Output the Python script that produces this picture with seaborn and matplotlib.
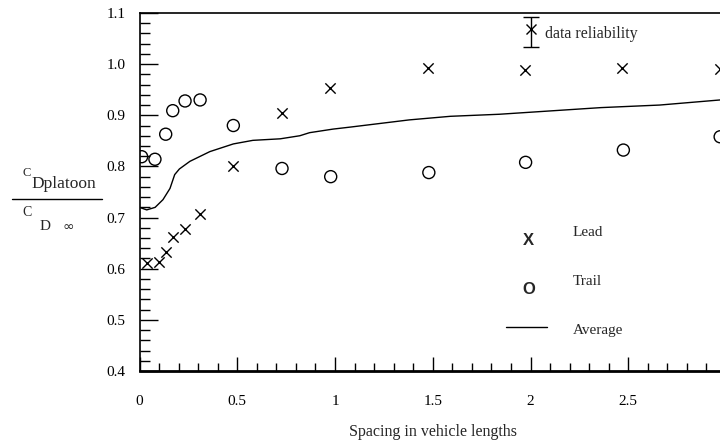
import numpy as np
import pandas as pd
import matplotlib.pyplot as plt
import matplotlib.lines as mlines
import seaborn as sns

# --- data ---
lead_x = [0.037, 0.10, 0.134, 0.17, 0.231, 0.31, 0.48, 0.73, 0.976, 1.477, 1.972, 2.47, 2.97]
lead_y = [0.611, 0.614, 0.632, 0.662, 0.678, 0.707, 0.801, 0.905, 0.953, 0.992, 0.989, 0.992, 0.990]

trail_x = [0.011, 0.079, 0.134, 0.17, 0.233, 0.31, 0.48, 0.729, 0.978, 1.48, 1.975, 2.475, 2.97]
trail_y = [0.819, 0.814, 0.863, 0.909, 0.928, 0.930, 0.880, 0.796, 0.780, 0.788, 0.808, 0.832, 0.858]

avg_x = [0.0, 0.037, 0.08, 0.12, 0.156, 0.18, 0.204, 0.258, 0.36, 0.48, 0.58, 0.72,
         0.82, 0.87, 0.99, 1.08, 1.38, 1.59, 1.84, 2.36, 2.66, 2.97, 3.0]
avg_y = [0.720, 0.715, 0.720, 0.735, 0.757, 0.784, 0.795, 0.810, 0.829, 0.844, 0.851, 0.854,
         0.860, 0.866, 0.873, 0.877, 0.891, 0.898, 0.902, 0.915, 0.920, 0.930, 0.931]

# sample error bar shown in the key
rel_x = [2.0]
rel_y = [1.0696]
rel_err = [[0.0366], [0.0224]]

x_ticks = [0, 0.5, 1, 1.5, 2, 2.5, 3]
x_tick_labels = ["0", "0.5", "1", "1.5", "2", "2.5", "3"]
y_ticks = [0.4, 0.5, 0.6, 0.7, 0.8, 0.9, 1.0, 1.1]
y_tick_labels = ["0.4", "0.5", "0.6", "0.7", "0.8", "0.9", "1.0", "1.1"]

lead_df = pd.DataFrame({"spacing": lead_x, "cd": lead_y})
trail_df = pd.DataFrame({"spacing": trail_x, "cd": trail_y})
avg_df = pd.DataFrame({"spacing": avg_x, "cd": avg_y})

sns.set_theme(style="ticks")
plt.rcParams['font.family'] = ['Liberation Serif', 'DejaVu Serif']

fig = plt.figure(figsize=(7.2, 4.45), dpi=100)
# axes run past the right edge of the picture, as in the reference
ax = fig.add_axes([139.5 / 720, 74 / 445, 586.5 / 720, 358 / 445])

sns.lineplot(data=avg_df, x="spacing", y="cd", color="black", linewidth=1.0, ax=ax)
sns.scatterplot(data=lead_df, x="spacing", y="cd", marker="x", color="black",
                s=55, linewidth=1.0, ax=ax)
sns.scatterplot(data=trail_df, x="spacing", y="cd", marker="o", facecolor="none",
                edgecolor="black", s=75, linewidth=1.0, ax=ax)

ax.errorbar(rel_x, rel_y, yerr=rel_err, fmt="x", color="black", ms=7, mew=1.0,
            elinewidth=1.0, capsize=5.5, capthick=1.0)
ax.text(2.074, 1.058, "data reliability", fontsize=11.5, va="center", ha="left")

# hand-made key
ax.text(1.99, 0.656, "X", family=["Liberation Sans"], fontweight="bold", fontsize=12,
        ha="center", va="center")
ax.text(1.99, 0.560, "O", family=["Liberation Sans"], fontweight="bold", fontsize=12,
        ha="center", va="center")
ax.add_line(mlines.Line2D([1.875, 2.084], [0.487, 0.487], color="black", linewidth=1.0))
ax.text(2.217, 0.670, "Lead", fontsize=11, va="center", ha="left")
ax.text(2.217, 0.575, "Trail", fontsize=11, va="center", ha="left")
ax.text(2.217, 0.479, "Average", fontsize=11, va="center", ha="left")

ax.set_xlim(0, 3)
ax.set_ylim(0.4, 1.1)
ax.set_xticks(x_ticks)
ax.set_xticklabels(x_tick_labels)
ax.set_yticks(y_ticks)
ax.set_yticklabels(y_tick_labels)
ax.set_xticks(np.arange(0, 3.01, 0.1), minor=True)
ax.set_yticks(np.arange(0.4, 1.101, 0.02), minor=True)

ax.tick_params(axis="both", which="both", direction="in", color="black",
               labelcolor="black", labelsize=11)
ax.tick_params(axis="y", which="major", length=13, width=1.0, pad=10)
ax.tick_params(axis="y", which="minor", length=7, width=1.0)
ax.tick_params(axis="x", which="major", length=10, width=1.0, pad=17)
ax.tick_params(axis="x", which="minor", length=5.5, width=1.0)

for side in ["left", "top", "right"]:
    ax.spines[side].set_linewidth(1.2)
    ax.spines[side].set_color("black")
ax.spines["bottom"].set_linewidth(2.0)
ax.spines["bottom"].set_color("black")

ax.set_xlabel("Spacing in vehicle lengths", fontsize=11.5, labelpad=12)
ax.set_ylabel("")

# fraction-style y label: C_D,platoon / C_D,inf
fig.text(27 / 720, 1 - 173 / 445, "C", fontsize=9, ha="center", va="center")
fig.text(31 / 720, 1 - 184 / 445, "Dplatoon", fontsize=12.5, ha="left", va="center")
fig.add_artist(mlines.Line2D([11.7 / 720, 101.7 / 720], [1 - 199 / 445, 1 - 199 / 445],
                             color="black", linewidth=1.0))
fig.text(27 / 720, 1 - 213 / 445, "C", fontsize=10, ha="center", va="center")
fig.text(45 / 720, 1 - 227 / 445, "D", fontsize=11, ha="center", va="center")
fig.text(68 / 720, 1 - 227 / 445, "\u221e", fontsize=10, ha="center", va="center",
         family=["DejaVu Sans"])

fig.savefig("out.png", dpi=100)
